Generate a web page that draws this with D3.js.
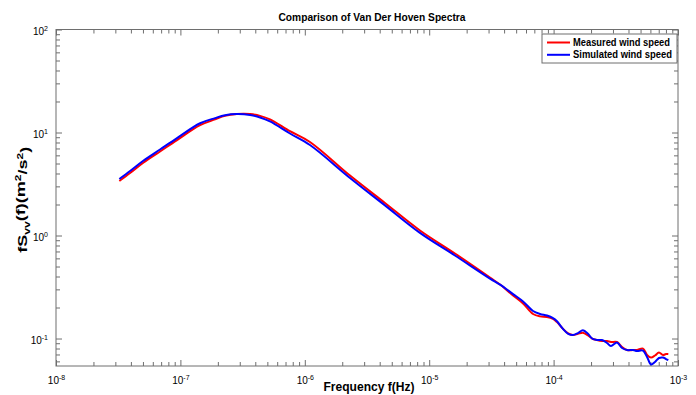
<!DOCTYPE html>
<html>
<head>
<meta charset="utf-8">
<script src="https://cdn.jsdelivr.net/npm/d3@7"></script>
<style>
  html, body { margin: 0; padding: 0; background: #fff; }
  svg { display: block; font-family: "Liberation Sans", Arial, Helvetica, sans-serif; }
</style>
</head>
<body>
<svg id="chart" width="696" height="395"></svg>
<script>
// ---- Data ----
const frequency = [3.23e-8, 3.94e-8, 5.03e-8, 6.86e-8, 9.33e-8, 1.44e-7, 1.90e-7, 2.28e-7, 2.84e-7, 3.63e-7,
  4.37e-7, 5.25e-7, 7.60e-7, 1.10e-6, 2.31e-6, 4.41e-6, 8.43e-6, 1.61e-5, 3.08e-5, 3.71e-5,
  4.72e-5, 5.68e-5, 6.83e-5, 7.78e-5, 8.85e-5, 9.89e-5, 1.06e-4, 1.19e-4, 1.31e-4, 1.43e-4,
  1.57e-4, 1.72e-4, 1.89e-4, 2.04e-4, 2.23e-4, 2.45e-4, 2.69e-4, 2.89e-4, 3.23e-4, 3.55e-4,
  3.89e-4, 4.35e-4, 4.68e-4, 5.23e-4, 5.64e-4, 6.07e-4, 6.53e-4, 7.03e-4, 7.57e-4, 8.01e-4, 8.36e-4];
const measured = [3.38, 4.04, 5.09, 6.54, 8.40, 11.8, 13.4, 14.5, 15.1, 15.1,
  14.5, 13.4, 10.3, 8.09, 3.82, 2.07, 1.12, 0.669, 0.391, 0.334,
  0.262, 0.219, 0.173, 0.164, 0.162, 0.155, 0.145, 0.124, 0.112, 0.108,
  0.111, 0.114, 0.107, 0.100, 0.0967, 0.0945, 0.0945, 0.0925, 0.0925, 0.0827,
  0.0773, 0.0773, 0.0773, 0.0799, 0.0692, 0.0654, 0.0684, 0.0731, 0.0692, 0.0707, 0.0707];
const simulated = [3.54, 4.23, 5.32, 6.84, 8.78, 12.3, 13.8, 14.7, 15.1, 14.8,
  14.0, 12.8, 9.78, 7.56, 3.62, 1.96, 1.06, 0.640, 0.382, 0.334,
  0.270, 0.229, 0.185, 0.173, 0.167, 0.158, 0.148, 0.124, 0.111, 0.108,
  0.113, 0.120, 0.111, 0.100, 0.0967, 0.0967, 0.0904, 0.0846, 0.0915, 0.0809,
  0.0773, 0.0773, 0.0756, 0.0764, 0.0661, 0.0559, 0.0591, 0.0647, 0.0654, 0.0632, 0.0618];
const seriesNames = ["Measured wind speed", "Simulated wind speed"];
const seriesColors = ["#ff0000", "#0000ff"];
const xDomain = [1e-8, 1e-3];
const yDomain = [0.0541, 100];
const xMajorTicks = [1e-8, 1e-7, 1e-6, 1e-5, 1e-4, 1e-3];
const yMajorTicks = [1e-1, 1e0, 1e1, 1e2];
const titleText = "Comparison of Van Der Hoven Spectra";
const xLabelText = "Frequency f(Hz)";

// ---- Layout ----
const W = 696, H = 395;
const margin = { top: 29.5, right: 18, bottom: 29, left: 56 };
const iw = W - margin.left - margin.right;
const ih = H - margin.top - margin.bottom;

const svg = d3.select("#chart");
const g = svg.append("g").attr("transform", `translate(${margin.left},${margin.top})`);

const x = d3.scaleLog().domain(xDomain).range([0, iw]);
const y = d3.scaleLog().domain(yDomain).range([ih, 0]);

function minorTicks(domain) {
  const out = [];
  const lo = Math.floor(Math.log10(domain[0])), hi = Math.ceil(Math.log10(domain[1]));
  for (let e = lo; e < hi; e++) {
    for (let m = 2; m <= 9; m++) {
      const v = m * Math.pow(10, e);
      if (v >= domain[0] && v <= domain[1]) out.push(v);
    }
  }
  return out;
}
const xMinor = minorTicks(xDomain);
const yMinor = minorTicks(yDomain);

const axisColor = "#6e6e6e";
function styleAxis(sel) {
  sel.select(".domain").remove();
  sel.selectAll(".tick line").attr("stroke", axisColor);
}
function supLabels(sel, anchor) {
  sel.selectAll(".tick text").each(function(d) {
    const t = d3.select(this);
    const e = Math.round(Math.log10(d));
    t.text(null)
      .attr("fill", "#000")
      .attr("font-size", 10)
      .attr("text-anchor", anchor);
    t.append("tspan").text("10");
    t.append("tspan").attr("dy", "-0.55em").attr("font-size", 7).text(String(e));
  });
}

// Bottom axis (major + minor)
const gxMinor = g.append("g").attr("transform", `translate(0,${ih})`)
  .call(d3.axisBottom(x).tickValues(xMinor).tickSizeInner(-4).tickSizeOuter(0).tickFormat(""));
styleAxis(gxMinor);
const gx = g.append("g").attr("transform", `translate(0,${ih})`)
  .call(d3.axisBottom(x).tickValues(xMajorTicks).tickSizeInner(-6).tickSizeOuter(0).tickPadding(11));
styleAxis(gx);
supLabels(gx, "middle");

// Top axis (ticks only)
const gtMinor = g.append("g")
  .call(d3.axisTop(x).tickValues(xMinor).tickSizeInner(-4).tickSizeOuter(0).tickFormat(""));
styleAxis(gtMinor);
const gt = g.append("g")
  .call(d3.axisTop(x).tickValues(xMajorTicks).tickSizeInner(-6).tickSizeOuter(0).tickFormat(""));
styleAxis(gt);

// Left axis
const gyMinor = g.append("g")
  .call(d3.axisLeft(y).tickValues(yMinor).tickSizeInner(-4).tickSizeOuter(0).tickFormat(""));
styleAxis(gyMinor);
const gy = g.append("g")
  .call(d3.axisLeft(y).tickValues(yMajorTicks).tickSizeInner(-6).tickSizeOuter(0).tickPadding(8));
styleAxis(gy);
supLabels(gy, "end");
gy.selectAll(".tick text").attr("dy", "0.45em");

// Right axis
const grMinor = g.append("g").attr("transform", `translate(${iw},0)`)
  .call(d3.axisRight(y).tickValues(yMinor).tickSizeInner(-4).tickSizeOuter(0).tickFormat(""));
styleAxis(grMinor);
const gr = g.append("g").attr("transform", `translate(${iw},0)`)
  .call(d3.axisRight(y).tickValues(yMajorTicks).tickSizeInner(-6).tickSizeOuter(0).tickFormat(""));
styleAxis(gr);

// Frame
g.append("rect").attr("x", 0).attr("y", 0).attr("width", iw).attr("height", ih)
  .attr("fill", "none").attr("stroke", axisColor).attr("stroke-width", 1);

// Clip
svg.append("defs").append("clipPath").attr("id", "plotclip")
  .append("rect").attr("width", iw).attr("height", ih);

const line = d3.line()
  .x(d => x(d[0]))
  .y(d => y(d[1]))
  .curve(d3.curveCatmullRom.alpha(0.5));

const series = [measured, simulated];
const plot = g.append("g").attr("clip-path", "url(#plotclip)");
series.forEach((vals, i) => {
  plot.append("path")
    .datum(frequency.map((f, k) => [f, vals[k]]))
    .attr("fill", "none")
    .attr("stroke", seriesColors[i])
    .attr("stroke-width", 2)
    .attr("stroke-linejoin", "round")
    .attr("d", line);
});

// Title
svg.append("text")
  .attr("x", margin.left + iw / 2 + 5).attr("y", 21)
  .attr("text-anchor", "middle")
  .attr("font-size", 11.5).attr("font-weight", "bold")
  .attr("textLength", 187).attr("lengthAdjust", "spacingAndGlyphs")
  .text(titleText);

// X label
svg.append("text")
  .attr("x", margin.left + iw / 2 + 2).attr("y", 391)
  .attr("text-anchor", "middle")
  .attr("font-size", 12).attr("font-weight", "bold")
  .attr("textLength", 91).attr("lengthAdjust", "spacingAndGlyphs")
  .text(xLabelText);

// Y label: fS_vv(f)(m^2/s^2)
const yl = svg.append("text")
  .attr("transform", `translate(27,${margin.top + ih / 2 + 2}) rotate(-90)`)
  .attr("text-anchor", "middle")
  .attr("font-size", 13.5).attr("font-weight", "bold")
  .attr("textLength", 106).attr("lengthAdjust", "spacingAndGlyphs");
yl.append("tspan").text("fS");
yl.append("tspan").attr("dy", "0.35em").attr("font-size", 9).text("vv");
yl.append("tspan").attr("dy", "-0.35em").text("(f)(m");
yl.append("tspan").attr("dy", "-0.45em").attr("font-size", 9).text("2");
yl.append("tspan").attr("dy", "0.45em").text("/s");
yl.append("tspan").attr("dy", "-0.45em").attr("font-size", 9).text("2");
yl.append("tspan").attr("dy", "0.45em").text(")");

// Legend
const lg = g.append("g").attr("transform", `translate(${iw - 136},${4.5})`);
lg.append("rect").attr("width", 135).attr("height", 29)
  .attr("fill", "#fff").attr("stroke", axisColor).attr("stroke-width", 1);
const legendTextLen = [97, 99];
seriesNames.forEach((name, i) => {
  const yy = 8.5 + i * 12.3;
  lg.append("line").attr("x1", 5).attr("x2", 28).attr("y1", yy).attr("y2", yy)
    .attr("stroke", seriesColors[i]).attr("stroke-width", 2);
  lg.append("text").attr("x", 31).attr("y", yy).attr("dy", "0.35em")
    .attr("font-size", 10).attr("font-weight", "bold")
    .attr("textLength", legendTextLen[i]).attr("lengthAdjust", "spacingAndGlyphs")
    .text(name);
});
</script>
</body>
</html>
